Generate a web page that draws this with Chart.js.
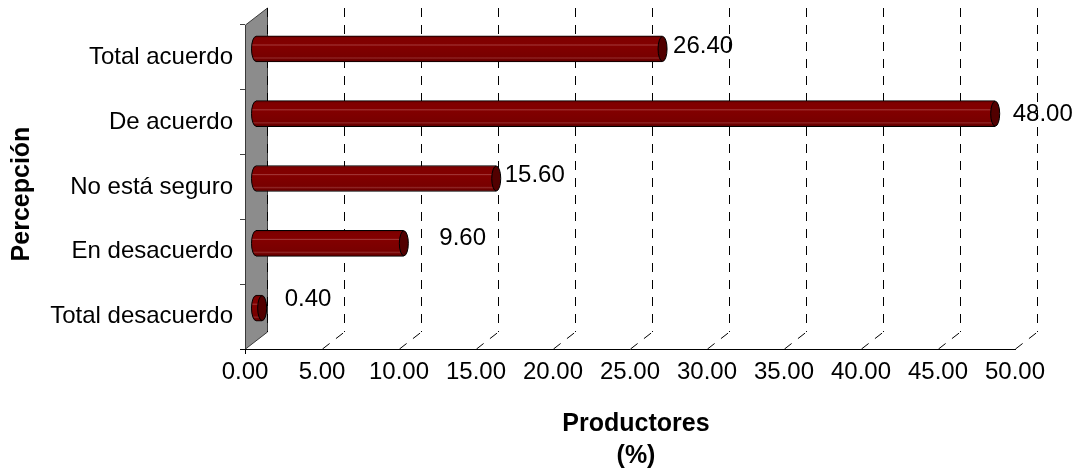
<!DOCTYPE html>
<html>
<head>
<meta charset="utf-8">
<script src="https://cdn.jsdelivr.net/npm/chart.js@4.4.1/dist/chart.umd.min.js"></script>
<style>
  html, body { margin: 0; padding: 0; background: #ffffff; }
  #wrap { position: relative; width: 1075px; height: 469px; }
</style>
</head>
<body>
<div id="wrap"><canvas id="chart"></canvas></div>
<script>
// Survey answers and share of producers (%)
const categories = ['Total acuerdo', 'De acuerdo', 'No está seguro', 'En desacuerdo', 'Total desacuerdo'];
const productores = [26.40, 48.00, 15.60, 9.60, 0.40];
const xTicks = [0, 5, 10, 15, 20, 25, 30, 35, 40, 45, 50];
const xTitle = ['Productores', '(%)'];
const yTitle = 'Percepción';

const FONT = "'Liberation Sans', Arial, sans-serif";
const DEPTH_X = 22;   // receding depth of the 3-D box
const DEPTH_Y = -17;
const BAR_H = 26;

// vertical shading of a cylinder lying along x
function cylinderGradient(ctx, top, bottom) {
  const g = ctx.createLinearGradient(0, top, 0, bottom);
  g.addColorStop(0.00, '#640000');
  g.addColorStop(0.10, '#800000');
  g.addColorStop(0.31, '#820000');
  g.addColorStop(0.35, '#a33838');
  g.addColorStop(0.39, '#820000');
  g.addColorStop(0.80, '#780000');
  g.addColorStop(0.85, '#8e2626');
  g.addColorStop(0.90, '#720000');
  g.addColorStop(1.00, '#560000');
  return g;
}

const depthPlugin = {
  id: 'depth3d',
  beforeDatasetsDraw(chart, args, opts) {
    const { ctx, chartArea: a, scales: { x } } = chart;
    const dx = opts.dx, dy = opts.dy;
    ctx.save();
    // grey side wall
    ctx.beginPath();
    ctx.moveTo(a.left + 0.5, a.top);
    ctx.lineTo(a.left + dx + 0.5, a.top + dy);
    ctx.lineTo(a.left + dx + 0.5, a.bottom + dy);
    ctx.lineTo(a.left + 0.5, a.bottom);
    ctx.closePath();
    ctx.fillStyle = '#8c8c8c';
    ctx.fill();
    ctx.strokeStyle = '#3a3a3a';
    ctx.lineWidth = 1;
    ctx.stroke();
    // dashed grid lines on the back plane, joined to the front axis across the floor
    ctx.strokeStyle = '#000000';
    ctx.setLineDash([9, 8]);
    xTicks.forEach(v => {
      const px = Math.round(x.getPixelForValue(v)) + 0.5;
      ctx.beginPath();
      ctx.moveTo(px + dx, a.top + dy);
      ctx.lineTo(px + dx, a.bottom + dy);
      ctx.stroke();
      if (v !== xTicks[0]) {
        ctx.beginPath();
        ctx.moveTo(px, a.bottom);
        ctx.lineTo(px + dx, a.bottom + dy);
        ctx.stroke();
      }
    });
    ctx.setLineDash([]);
    // small stub and zero tick on the front axis
    ctx.beginPath();
    ctx.moveTo(a.left - 5, a.bottom + 0.5);
    ctx.lineTo(a.left, a.bottom + 0.5);
    ctx.moveTo(a.left + 0.5, a.bottom);
    ctx.lineTo(a.left + 0.5, a.bottom + 5);
    ctx.stroke();
    ctx.restore();
    // bars sit half way into the depth
    ctx.save();
    ctx.translate(dx / 2, dy / 2);
  },
  afterDatasetsDraw(chart, args, opts) {
    const { ctx } = chart;
    const meta = chart.getDatasetMeta(0);
    meta.data.forEach(el => {
      const { x: xe, y: ye, base, height } = el.getProps(['x', 'y', 'base', 'height'], true);
      const ry = height / 2, rx = 4.5;
      // rounded back end
      ctx.beginPath();
      ctx.ellipse(base, ye, rx, ry - 0.5, 0, Math.PI / 2, Math.PI * 1.5);
      ctx.fillStyle = cylinderGradient(ctx, ye - ry, ye + ry);
      ctx.fill();
      ctx.strokeStyle = '#000000';
      ctx.lineWidth = 1;
      ctx.stroke();
      // visible end face
      ctx.beginPath();
      ctx.ellipse(xe, ye, rx, ry - 0.5, 0, 0, Math.PI * 2);
      ctx.fillStyle = '#520000';
      ctx.fill();
      ctx.stroke();
    });
    ctx.restore();

    // value labels
    ctx.save();
    ctx.font = '24px ' + FONT;
    ctx.fillStyle = '#000000';
    ctx.textAlign = 'left';
    ctx.textBaseline = 'middle';
    meta.data.forEach((el, i) => {
      const { x: xe, y: ye } = el.getProps(['x', 'y'], true);
      const lx = xe + opts.dx / 2 + 4.5 + opts.labelGap + (opts.labelNudgeX[i] || 0);
      const ly = ye + opts.dy / 2 + (opts.labelNudgeY[i] || 0);
      ctx.fillText(productores[i].toFixed(2), lx, ly);
    });
    ctx.restore();
  },
  afterDraw(chart) {
    const { ctx, chartArea: a } = chart;
    ctx.save();
    ctx.fillStyle = '#000000';
    ctx.font = 'bold 25px ' + FONT;
    ctx.textAlign = 'center';
    ctx.textBaseline = 'middle';
    const cx = (a.left + a.right) / 2 + 6;
    xTitle.forEach((t, i) => ctx.fillText(t, cx, a.bottom + 75 + i * 32));
    ctx.translate(22, (a.top + a.bottom) / 2 + 7);
    ctx.rotate(-Math.PI / 2);
    ctx.fillText(yTitle, 0, 0);
    ctx.restore();
  }
};

Chart.defaults.font.family = FONT;
Chart.defaults.font.size = 24;
Chart.defaults.color = '#000000';

new Chart(document.getElementById('chart'), {
  type: 'bar',
  data: {
    labels: categories,
    datasets: [{
      data: productores,
      barThickness: BAR_H,
      backgroundColor: (c) => {
        const y = c.chart.scales && c.chart.scales.y;
        if (!y || c.dataIndex === undefined) return '#800000';
        const cy = y.getPixelForValue(c.dataIndex);
        if (!isFinite(cy)) return '#800000';
        return cylinderGradient(c.chart.ctx, cy - BAR_H / 2, cy + BAR_H / 2);
      },
      borderColor: '#000000',
      borderWidth: { top: 1, bottom: 1, left: 0, right: 0 },
      borderSkipped: false
    }]
  },
  options: {
    indexAxis: 'y',
    responsive: true,
    maintainAspectRatio: false,
    animation: false,
    devicePixelRatio: 1,
    layout: { padding: { top: 25, right: 60, bottom: 0, left: 0 } },
    plugins: {
      legend: { display: false },
      tooltip: { enabled: false },
      depth3d: {
        dx: DEPTH_X, dy: DEPTH_Y, labelGap: 5,
        labelNudgeX: [1, 8, -1, 26, 13],
        labelNudgeY: [-3, 1, -3, -5, -9]
      }
    },
    scales: {
      x: {
        type: 'linear',
        min: 0, max: 50,
        afterBuildTicks: (s) => { s.ticks = xTicks.map(v => ({ value: v })); },
        afterFit: (s) => { s.height = 120; },
        ticks: { padding: 9, callback: (v) => Number(v).toFixed(2), maxRotation: 0, autoSkip: false },
        grid: { display: false, drawTicks: false },
        border: { display: true, color: '#000000', width: 1 }
      },
      y: {
        type: 'category',
        afterFit: (s) => { s.width = 245; },
        ticks: { padding: 7 },
        grid: { display: true, drawOnChartArea: false, drawTicks: true, tickLength: 5, offset: true, color: '#404040' },
        border: { display: false }
      }
    }
  },
  plugins: [depthPlugin]
});
</script>
</body>
</html>
